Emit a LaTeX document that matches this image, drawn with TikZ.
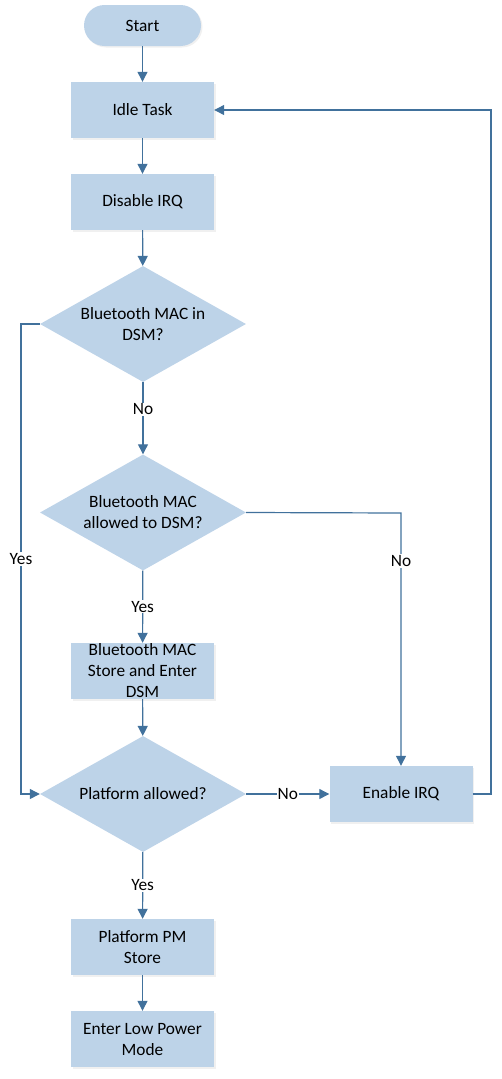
\documentclass[tikz,border=0pt]{standalone}
\usepackage{fontspec}
\setmainfont{Carlito}
\usetikzlibrary{shapes.geometric,arrows.meta,shadows}
\definecolor{boxfill}{HTML}{BDD3E8}
\definecolor{linec}{HTML}{41719C}
\tikzset{
  every node/.style={font=\fontsize{17.3}{21}\selectfont, text=black},
  proc/.style={rectangle, fill=boxfill, minimum width=143pt, minimum height=56pt, inner sep=0pt, align=center,
    drop shadow={opacity=0.12, shadow xshift=1.5pt, shadow yshift=-1.5pt}},
  term/.style={rectangle, rounded corners=20.5pt, fill=boxfill, minimum width=117pt, minimum height=41pt, inner sep=0pt,
    drop shadow={opacity=0.12, shadow xshift=1.5pt, shadow yshift=-1.5pt}},
  dec/.style={diamond, aspect=1.776, fill=boxfill, minimum width=206pt, minimum height=116pt, inner sep=0pt, align=center},
  conn/.style={draw=linec, line width=1.2pt},
  arr/.style={conn, -{Triangle[length=10pt,width=10pt]}},
  lbl/.style={fill=white, inner sep=1pt}
}
\begin{document}
\begin{tikzpicture}[x=1pt,y=-1pt]
\useasboundingbox (0,0) rectangle (502,1079);
\node[term] (start) at (142.5,25.5) {Start};
\node[proc] (idle) at (142.5,110) {Idle Task};
\node[proc] (dis) at (142.5,202) {Disable IRQ};
\node[dec] (d1) at (143,324) {Bluetooth MAC in\\DSM?};
\node[dec] (d2) at (143,512.5) {Bluetooth MAC\\allowed to DSM?};
\node[proc] (store) at (142.5,671) {Bluetooth MAC\\Store and Enter\\DSM};
\node[dec] (d3) at (143,794) {Platform allowed?};
\node[proc] (en) at (401,794) {Enable IRQ};
\node[proc] (pm) at (142.5,947) {Platform PM\\Store};
\node[proc] (low) at (142.5,1039) {Enter Low Power\\Mode};
\coordinate (lt) at (21,324);
\coordinate (lb) at (21,794);
\coordinate (rb) at (491,794);
\coordinate (rt) at (491,110);
\coordinate (nc) at (401,513);
\draw[arr] (start) -- (idle);
\draw[arr] (idle) -- (dis);
\draw[arr] (dis) -- (d1);
\draw[arr] (d1) -- node[lbl,pos=0.375]{No} (d2);
\draw[arr] (d2) -- node[lbl,pos=0.5]{Yes} (store);
\draw[arr] (store) -- (d3);
\draw[arr] (d3) -- node[lbl,pos=0.5]{Yes} (pm);
\draw[arr] (pm) -- (low);
\draw[arr] (d3) -- node[lbl,pos=0.5]{No} (en);
\draw[arr] (d1.west) -- (lt) -- node[lbl,pos=0.5]{Yes} (lb) -- (d3.west);
\draw[arr] (d2.east) -- (nc) -- node[lbl,pos=0.19]{No} (en.north);
\draw[arr] (en.east) -- (rb) -- (rt) -- (idle.east);
\end{tikzpicture}
\end{document}
